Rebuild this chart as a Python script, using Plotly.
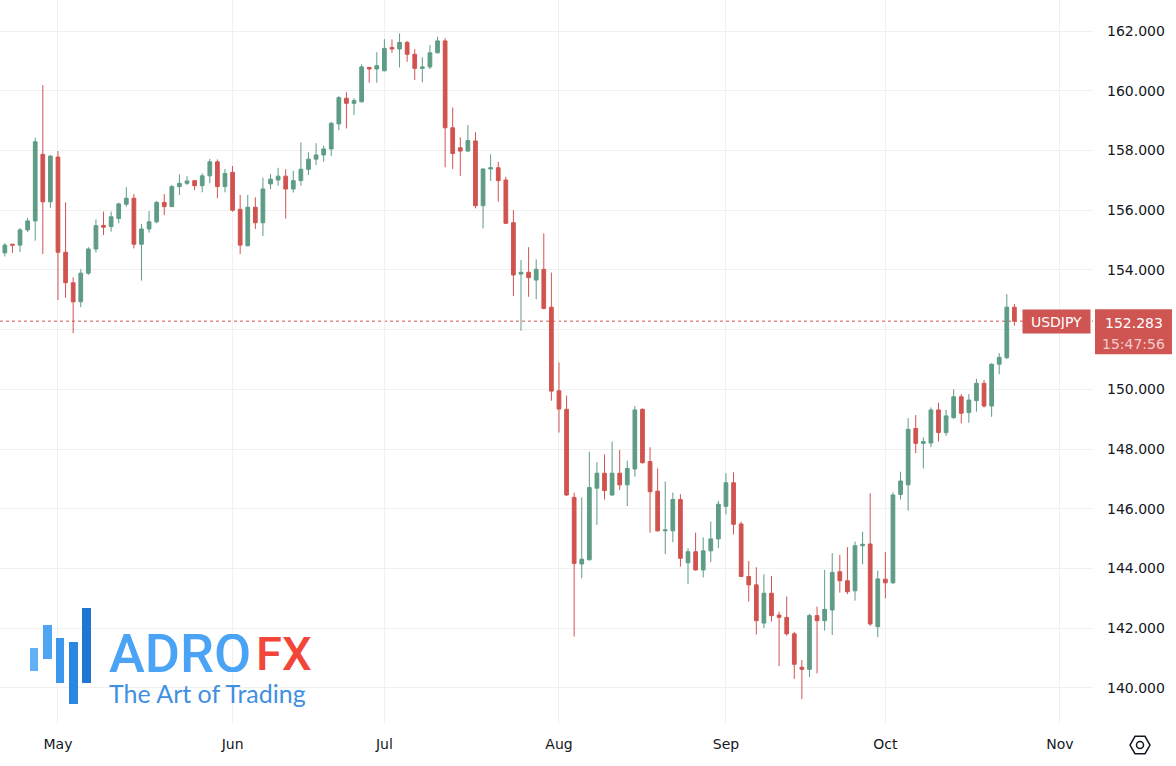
import pandas as pd
import plotly.graph_objects as go

# USDJPY daily candles, 22 Apr 2024 - 24 Oct 2024 (one row per weekday)
dates = pd.bdate_range("2024-04-22", "2024-10-24")

opens = [
    154.57, 154.86, 154.83, 155.34, 155.64, 157.87, 156.28,
    157.78, 154.59, 153.57, 152.93, 153.89, 154.70, 155.49, 155.45, 155.72, 156.20,
    156.40, 154.86, 155.37, 155.61, 156.26, 156.12, 156.79, 156.90, 156.99, 156.82,
    157.15, 157.62, 156.79,
    157.27, 156.03, 154.81, 156.10, 155.58, 156.88, 157.01, 157.14, 156.71, 156.99,
    157.37, 157.71, 157.85, 158.05, 158.89, 159.75, 159.58, 159.63, 160.78, 160.73,
    160.67, 161.45, 161.40, 161.62, 161.22, 160.75, 160.80, 161.27, 161.67, 158.76,
    158.09, 157.98, 158.32, 156.15, 157.38, 157.42, 157.01, 155.58, 153.86, 153.92,
    153.66, 154.02, 152.75,
    149.95, 149.33, 146.38, 144.15, 144.29, 146.69, 147.19, 146.46, 147.19, 146.80,
    147.33, 149.33, 147.58, 146.59, 145.26, 145.26, 146.31, 144.19, 144.56, 143.95,
    144.59, 144.99,
    146.08, 146.87, 145.49, 143.73, 143.45, 142.17, 143.17, 142.44, 142.36, 141.81,
    140.69, 140.62, 142.42, 142.25, 142.61, 143.89, 143.59, 143.25, 144.76, 144.82,
    142.05,
    143.64, 143.52, 146.48, 146.80, 148.69, 148.19, 148.20, 149.31, 148.55, 149.05,
    149.75, 149.22, 149.62, 150.20, 149.44, 150.84, 151.06, 152.75,
]
highs = [
    154.90, 154.87, 155.40, 155.74, 158.43, 160.19, 157.85,
    157.98, 156.26, 153.75, 154.02, 154.76, 155.69, 155.95, 155.95, 156.25, 156.77,
    156.54, 155.54, 155.97, 156.31, 156.54, 156.84, 157.20, 157.14, 157.00, 157.23,
    157.72, 157.70, 157.38,
    157.48, 156.51, 156.51, 156.43, 157.09, 157.21, 157.42, 157.37, 157.32, 158.27,
    157.94, 158.24, 158.16, 158.96, 159.82, 159.95, 159.75, 160.89, 160.80, 161.29,
    161.73, 161.72, 161.92, 161.67, 161.39, 161.12, 161.53, 161.81, 161.76, 159.44,
    158.44, 158.85, 158.61, 157.40, 157.87, 157.62, 157.12, 156.00, 154.33, 154.76,
    154.35, 155.22, 153.91,
    150.90, 149.79, 146.54, 146.38, 147.91, 147.56, 147.82, 148.25, 147.97, 147.61,
    149.44, 149.36, 148.06, 147.35, 146.91, 146.54, 146.49, 144.68, 145.20, 145.04,
    145.57, 146.26,
    147.19, 147.22, 145.57, 144.25, 144.04, 143.80, 143.75, 142.55, 143.06, 141.88,
    140.93, 142.48, 142.72, 143.95, 144.51, 144.45, 144.71, 144.90, 145.23, 146.52,
    143.93,
    144.55, 146.55, 147.24, 149.03, 149.14, 148.39, 149.39, 149.55, 149.31, 150.00,
    149.84, 149.84, 150.35, 150.31, 150.87, 151.21, 153.19, 152.86,
]
lows = [
    154.45, 154.57, 154.60, 155.27, 154.98, 154.53, 156.08,
    152.99, 153.07, 151.88, 152.75, 153.83, 154.58, 155.17, 155.28, 155.56, 156.12,
    154.72, 153.64, 155.25, 155.56, 155.84, 156.10, 156.51, 156.84, 156.67, 156.60,
    156.90, 156.40, 156.60,
    155.95, 154.53, 154.78, 155.37, 155.13, 156.70, 156.82, 155.72, 156.59, 156.82,
    157.18, 157.51, 157.62, 157.81, 158.68, 158.74, 159.19, 159.61, 160.27, 160.27,
    160.65, 161.27, 160.78, 160.97, 160.36, 160.28, 160.73, 161.25, 157.44, 157.38,
    157.15, 157.96, 156.06, 155.39, 156.98, 156.28, 155.54, 153.12, 151.96, 153.10,
    153.02, 152.68, 149.62,
    148.55, 146.43, 141.72, 143.67, 144.27, 145.46, 146.31, 146.44, 146.63, 146.09,
    147.07, 147.52, 145.20, 145.24, 144.48, 144.88, 144.06, 143.47, 143.93, 143.70,
    144.21, 144.68,
    145.81, 145.14, 143.72, 142.89, 141.79, 142.00, 142.22, 140.73, 141.75, 140.30,
    139.62, 140.36, 140.49, 141.92, 141.77, 143.19, 143.14, 142.92, 144.14, 142.08,
    141.70,
    143.00, 143.48, 146.31, 145.94, 147.86, 147.35, 148.06, 148.25, 148.44, 149.01,
    148.86, 148.88, 149.25, 149.39, 149.08, 150.51, 151.01, 152.13,
]
closes = [
    154.83, 154.83, 155.34, 155.64, 158.29, 156.28, 157.81,
    154.59, 153.57, 152.93, 153.89, 154.70, 155.48, 155.43, 155.78, 156.21, 156.40,
    154.86, 155.37, 155.61, 156.26, 156.12, 156.79, 156.90, 156.98, 156.82, 157.15,
    157.62, 156.79, 157.23,
    156.00, 154.83, 156.10, 155.58, 156.71, 157.04, 157.14, 156.71, 156.99, 157.37,
    157.71, 157.85, 158.05, 158.91, 159.77, 159.58, 159.67, 160.80, 160.73, 160.84,
    161.42, 161.40, 161.62, 161.22, 160.75, 160.80, 161.27, 161.67, 158.76, 157.90,
    157.98, 158.33, 156.15, 157.38, 157.42, 156.99, 155.56, 153.83, 153.92, 153.74,
    154.02, 152.71, 149.94,
    149.34, 146.46, 144.17, 144.31, 146.71, 147.19, 146.61, 147.19, 146.80, 147.35,
    149.31, 147.54, 146.57, 145.26, 145.29, 146.31, 144.34, 144.56, 143.95, 144.59,
    144.99, 146.15,
    146.87, 145.48, 143.73, 143.45, 142.25, 143.17, 142.42, 142.36, 141.81, 140.79,
    140.62, 142.42, 142.25, 142.63, 143.87, 143.59, 143.22, 144.76, 144.81, 142.14,
    143.65,
    143.52, 146.46, 146.93, 148.66, 148.19, 148.25, 149.31, 148.55, 149.11, 149.75,
    149.20, 149.64, 150.20, 149.44, 150.84, 151.07, 152.75, 152.283,
]

symbol = "USDJPY"
last_price = closes[-1]
last_time = "15:47:56"

month_ticks = ["2024-05-01", "2024-06-03", "2024-07-01", "2024-08-01",
               "2024-09-02", "2024-10-01", "2024-11-01"]
month_labels = ["May", "Jun", "Jul", "Aug", "Sep", "Oct", "Nov"]
price_ticks = [140, 142, 144, 146, 148, 150, 152, 154, 156, 158, 160, 162]

UP = "#5e9c86"
DOWN = "#d1534f"
LABEL_BG = "#cf5552"
GRID = "#f0f0f0"
TEXT = "#131722"

W, H = 1176, 766
ML, MR, MT, MB = 0, 83, 0, 42
PW, PH = W - ML - MR, H - MT - MB


def px(x, y):
    # pixel position in the page -> paper coords
    return (x - ML) / PW, (MT + PH - y) / PH


# the price-scale label covers the tick that sits right under the last price
price_text = ["" if abs(v - last_price) < 0.8 else f"{v:.3f}" for v in price_ticks]

fig = go.Figure(go.Candlestick(
    x=dates, open=opens, high=highs, low=lows, close=closes,
    increasing=dict(line=dict(color=UP, width=1), fillcolor=UP),
    decreasing=dict(line=dict(color=DOWN, width=1), fillcolor=DOWN),
    whiskerwidth=0, showlegend=False, hoverinfo="x+y",
))

# last price dotted line
fig.add_shape(type="line", xref="paper", x0=0, x1=1, yref="y",
              y0=last_price, y1=last_price,
              line=dict(color=DOWN, width=1, dash="dot"), layer="below")

# symbol label
fig.add_annotation(xref="paper", x=1, xanchor="right", xshift=-2,
                   yref="y", y=last_price, yanchor="middle",
                   text=symbol, showarrow=False, bgcolor=LABEL_BG,
                   font=dict(family="DejaVu Sans", size=14, color="white"),
                   width=59, height=15, borderpad=4)

# price + countdown box on the price scale (one red block, two text lines)
fig.add_shape(type="rect", xref="paper", x0=1 + 2 / PW, x1=1 + 79 / PW,
              yref="y", ysizemode="pixel", yanchor=last_price, y0=-33, y1=12,
              fillcolor=LABEL_BG, line=dict(width=0))
fig.add_annotation(xref="paper", x=1 + 40.5 / PW, xanchor="center",
                   yref="y", y=last_price, yanchor="middle", yshift=-1,
                   text=f"{last_price:.3f}", showarrow=False,
                   height=17, borderpad=0,
                   font=dict(family="DejaVu Sans", size=14, color="white"))
fig.add_annotation(xref="paper", x=1 + 40.5 / PW, xanchor="center",
                   yref="y", y=last_price, yanchor="middle", yshift=-22,
                   text=last_time, showarrow=False,
                   height=17, borderpad=0,
                   font=dict(family="DejaVu Sans", size=14, color="#f4cccb"))

# AdroFX logo
logo_bars = [((30, 648, 38, 671), "#63b0f7"), ((43, 625, 52, 659), "#4ea5f3"),
             ((56, 638, 64, 683), "#3a97ec"), ((69, 642, 78, 704), "#2a88e3"),
             ((82, 608, 91, 683), "#1e76d2")]
for (x0, y0, x1, y1), col in logo_bars:
    a0, b0 = px(x0, y0)
    a1, b1 = px(x1, y1)
    fig.add_shape(type="rect", xref="paper", yref="paper", x0=a0, y0=b0, x1=a1, y1=b1,
                  fillcolor=col, line=dict(width=0))

ax, ay = px(107, 653)
fig.add_annotation(xref="paper", yref="paper", x=ax, y=ay, xanchor="left", yanchor="middle",
                   text="ADRO", showarrow=False, height=38,
                   font=dict(family="Roboto", size=54, color="#4ba3f5", weight=500))
ax, ay = px(254, 653)
fig.add_annotation(xref="paper", yref="paper", x=ax, y=ay, xanchor="left", yanchor="middle",
                   text="FX", showarrow=False, height=38,
                   font=dict(family="Roboto", size=47, color="#f2463a", weight=500))
ax, ay = px(107, 693)
fig.add_annotation(xref="paper", yref="paper", x=ax, y=ay, xanchor="left", yanchor="middle",
                   text="The Art of Trading", showarrow=False, height=28,
                   font=dict(family="Lato", size=25, color="#3f8fe3"))

# settings gear (hexagon with a ring) under the price scale
cx, cy, r = 1140, 745, 10
hexa = [(cx - r, cy), (cx - r / 2, cy - 0.866 * r), (cx + r / 2, cy - 0.866 * r),
        (cx + r, cy), (cx + r / 2, cy + 0.866 * r), (cx - r / 2, cy + 0.866 * r)]
path = "M " + " L ".join(f"{px(x, y)[0]},{px(x, y)[1]}" for x, y in hexa) + " Z"
fig.add_shape(type="path", xref="paper", yref="paper", path=path,
              line=dict(color=TEXT, width=1.5))
c0, d0 = px(cx - 3.5, cy - 3.5)
c1, d1 = px(cx + 3.5, cy + 3.5)
fig.add_shape(type="circle", xref="paper", yref="paper", x0=c0, y0=d0, x1=c1, y1=d1,
              line=dict(color=TEXT, width=1.5))

fig.update_layout(
    width=W, height=H,
    margin=dict(l=ML, r=MR, t=MT, b=MB),
    paper_bgcolor="white", plot_bgcolor="white",
    font=dict(family="DejaVu Sans", size=14, color=TEXT),
    xaxis=dict(
        type="date",
        rangebreaks=[dict(bounds=["sat", "mon"])],
        range=["2024-04-19 08:40", "2024-11-07 08:30"],
        rangeslider=dict(visible=False),
        tickvals=month_ticks, ticktext=month_labels,
        showgrid=True, gridcolor=GRID, gridwidth=1,
        zeroline=False, showline=False, ticks="",
        ticklabelstandoff=10,
    ),
    yaxis=dict(
        side="right",
        range=[138.79, 163.04],
        tickvals=price_ticks, ticktext=price_text,
        showgrid=True, gridcolor=GRID, gridwidth=1,
        zeroline=False, showline=False, ticks="",
        ticklabelstandoff=13,
    ),
)

# drop the default 8px page margin so the chart sits at the window origin
fig.write_html("out.html", config={"displayModeBar": False},
               post_script="document.body.style.margin='0';")
